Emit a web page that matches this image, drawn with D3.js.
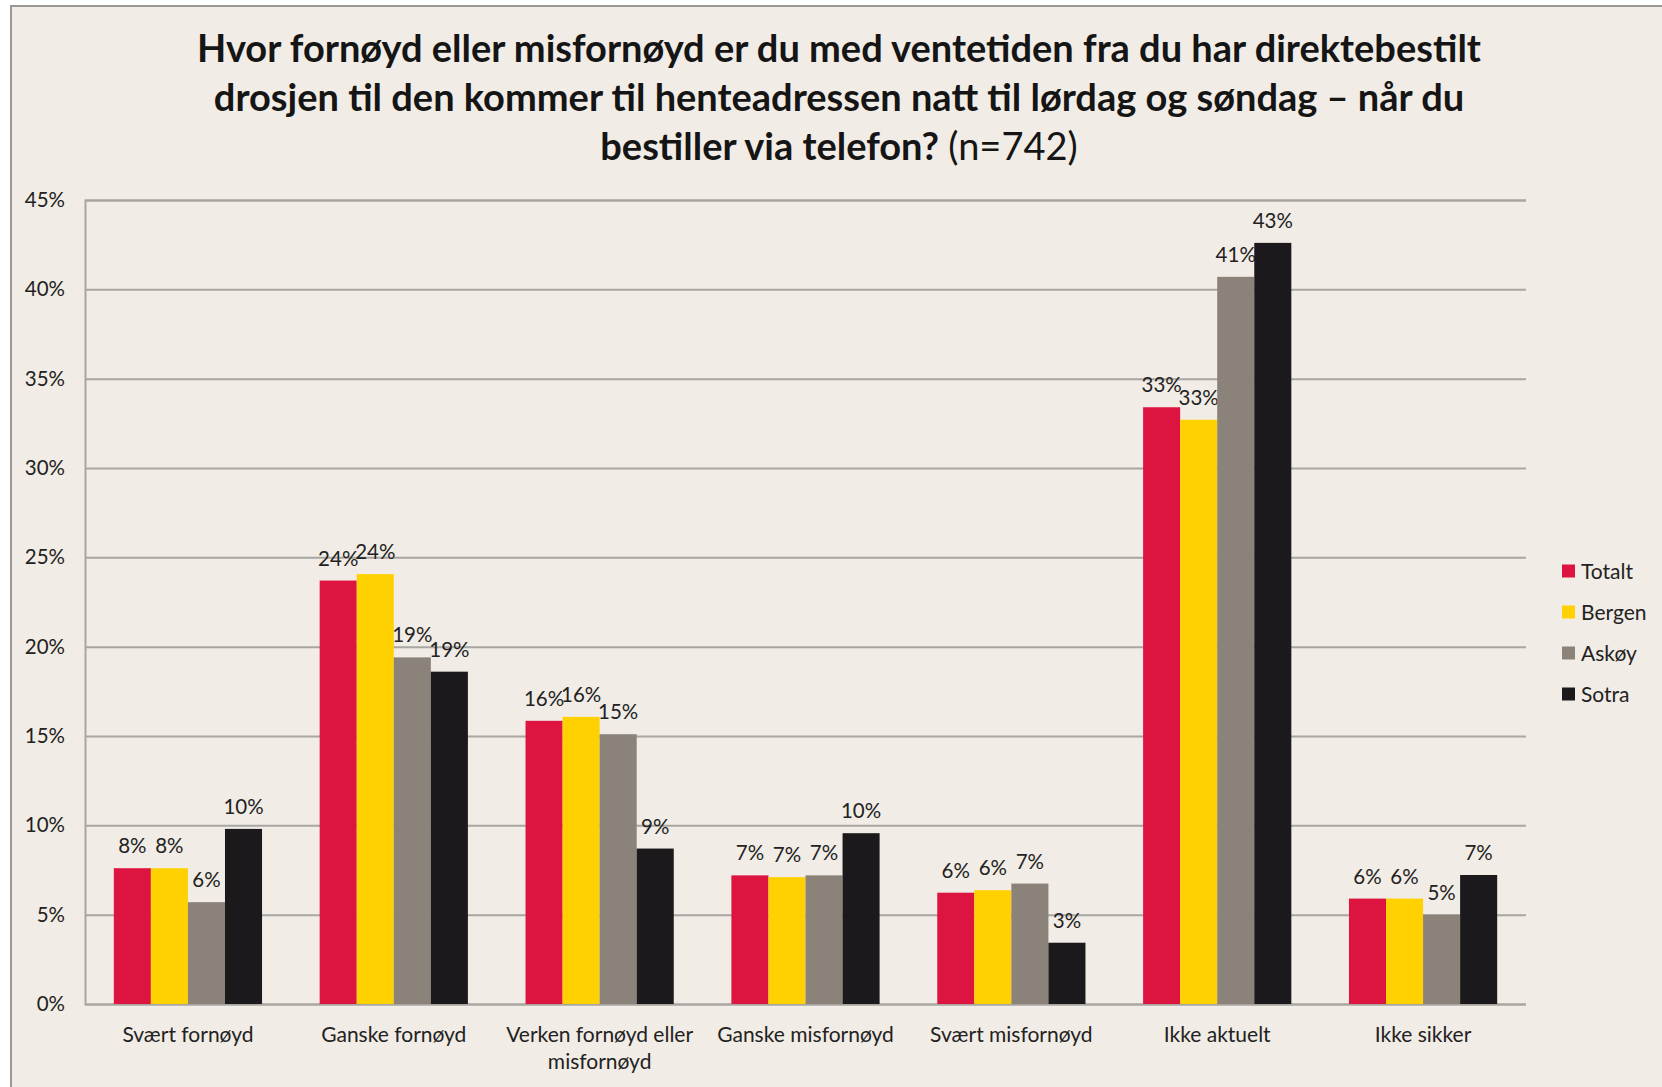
<!DOCTYPE html>
<html>
<head>
<meta charset="utf-8">
<script src="https://cdn.jsdelivr.net/npm/d3@7"></script>
<style>
  body { margin: 0; background: #fff; }
  svg text { font-family: Lato, "Open Sans", sans-serif; fill: #222; }
</style>
</head>
<body>
<div class="chart"></div>
<script>
// categories and series values (percent)
var categories = ["Svært fornøyd", "Ganske fornøyd", "Verken fornøyd eller|misfornøyd",
  "Ganske misfornøyd", "Svært misfornøyd", "Ikke aktuelt", "Ikke sikker"];
var seriesNames = ["Totalt", "Bergen", "Askøy", "Sotra"];
var seriesColors = ["#dc143f", "#ffd100", "#8b8279", "#1b191c"];
var totalt = [7.6, 23.7, 15.85, 7.2, 6.23, 33.4, 5.9];
var bergen = [7.6, 24.06, 16.07, 7.1, 6.37, 32.7, 5.9];
var askoy = [5.7, 19.4, 15.1, 7.2, 6.74, 40.7, 5.0];
var sotra = [9.8, 18.6, 8.7, 9.56, 3.43, 42.6, 7.22];
var yTicks = [0, 5, 10, 15, 20, 25, 30, 35, 40, 45];
var titleLines = [
  [{ t: "Hvor fornøyd eller misfornøyd er du med ventetiden fra du har direktebestilt", b: true }],
  [{ t: "drosjen til den kommer til henteadressen natt til lørdag og søndag – når du", b: true }],
  [{ t: "bestiller via telefon? ", b: true }, { t: "(n=742)", b: false }]
];

var allSeries = [totalt, bergen, askoy, sotra];

var svgWidth = 1662, svgHeight = 1087;
var margin = { top: 200, left: 85, right: 136, bottom: 83 };
var width = svgWidth - margin.left - margin.right;
var height = svgHeight - margin.top - margin.bottom;

var svg = d3.select(".chart")
  .append("svg")
  .attr("width", svgWidth)
  .attr("height", svgHeight);

// frame
svg.append("rect")
  .attr("x", 11).attr("y", 6)
  .attr("width", svgWidth + 10).attr("height", svgHeight + 10)
  .attr("fill", "#f1ece5")
  .attr("stroke", "#9a9897")
  .attr("stroke-width", 2);

// title
var title = svg.append("text")
  .attr("text-anchor", "middle")
  .attr("font-size", "38px")
  .style("fill", "#151515");
titleLines.forEach(function(line, i) {
  var tl = title.append("tspan")
    .attr("x", 839)
    .attr("y", 62 + i * 49);
  line.forEach(function(part) {
    tl.append("tspan")
      .attr("font-weight", part.b ? "bold" : "normal")
      .text(part.t);
  });
});

var chartGroup = svg.append("g")
  .attr("transform", `translate(${margin.left}, ${margin.top})`);

var x0 = d3.scaleBand()
  .domain(categories)
  .range([0, width])
  .paddingInner(0.28)
  .paddingOuter(0.14);

var x1 = d3.scaleBand()
  .domain(seriesNames)
  .range([0, x0.bandwidth()]);

var y = d3.scaleLinear()
  .domain([0, 45])
  .range([height, 0]);

// gridlines + y labels
var yAxis = d3.axisLeft(y)
  .tickValues(yTicks)
  .tickSize(-width)
  .tickPadding(20)
  .tickFormat(d => d + "%");

var yG = chartGroup.append("g").call(yAxis);
yG.select(".domain").attr("stroke", "#a9a6a2").attr("stroke-width", 2);
yG.selectAll(".tick line").attr("stroke", "#a9a6a2").attr("stroke-width", 2);
yG.selectAll(".tick text")
  .attr("font-size", "20.5px")
  .attr("font-family", "Lato, sans-serif")
  .attr("fill", "#333");

// category labels
var xLabels = chartGroup.append("g")
  .selectAll("text")
  .data(categories)
  .enter()
  .append("text")
  .attr("text-anchor", "middle")
  .attr("font-size", "21px")
  .attr("fill", "#333");
xLabels.each(function(d) {
  var parts = d.split("|");
  var el = d3.select(this);
  parts.forEach(function(p, i) {
    el.append("tspan")
      .attr("x", x0(d) + x0.bandwidth() / 2)
      .attr("y", height + 38 + i * 27)
      .text(p);
  });
});

// bars
var groups = chartGroup.selectAll(".grp")
  .data(categories)
  .enter()
  .append("g")
  .attr("class", "grp")
  .attr("transform", d => `translate(${x0(d)}, 0)`);

var cells = groups.selectAll("g")
  .data((d, ci) => seriesNames.map((s, si) => ({ s: s, si: si, v: allSeries[si][ci] })))
  .enter()
  .append("g");

cells.append("rect")
  .attr("x", d => x1(d.s))
  .attr("y", d => y(d.v))
  .attr("width", x1.bandwidth())
  .attr("height", d => height - y(d.v))
  .attr("fill", d => seriesColors[d.si]);

cells.append("text")
  .attr("x", d => x1(d.s) + x1.bandwidth() / 2)
  .attr("y", d => y(d.v) - 15)
  .attr("text-anchor", "middle")
  .attr("font-size", "20.5px")
  .attr("fill", "#333")
  .text(d => Math.round(d.v) + "%");

// legend
var legend = svg.append("g")
  .attr("transform", "translate(1562, 571)");
var items = legend.selectAll("g")
  .data(seriesNames)
  .enter()
  .append("g")
  .attr("transform", (d, i) => `translate(0, ${i * 41})`);
items.append("rect")
  .attr("x", 0).attr("y", -6.5)
  .attr("width", 13).attr("height", 13)
  .attr("fill", (d, i) => seriesColors[i]);
items.append("text")
  .attr("x", 19)
  .attr("y", 7.5)
  .attr("font-size", "21px")
  .attr("fill", "#333")
  .text(d => d);
</script>
</body>
</html>
